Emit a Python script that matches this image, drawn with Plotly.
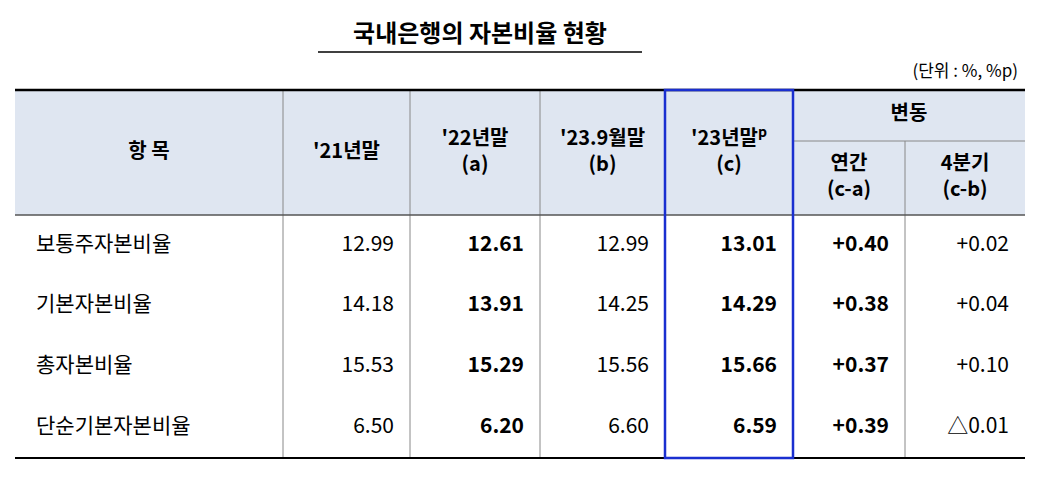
import plotly.graph_objects as go

title = "국내은행의 자본비율 현황"
unit = "(단위 : %, %p)"
items = ["보통주자본비율", "기본자본비율", "총자본비율", "단순기본자본비율"]
col21 = ["12.99", "14.18", "15.53", "6.50"]
col22 = ["12.61", "13.91", "15.29", "6.20"]
col239 = ["12.99", "14.25", "15.56", "6.60"]
col23 = ["13.01", "14.29", "15.66", "6.59"]
yearly = ["+0.40", "+0.38", "+0.37", "+0.39"]
quarter = ["+0.02", "+0.04", "+0.10", "△0.01"]
headers = ["항 목", "'21년말", "'22년말<br>(a)", "'23.9월말<br>(b)", "'23년말<sup>p</sup><br>(c)"]
sub_headers = ["연간<br>(c-a)", "4분기<br>(c-b)"]
group_header = "변동"

xs = [15, 283, 410, 540, 665, 793, 905, 1025]
top, mid, hbot, bot = 90, 141, 215, 458
row_h = (bot - hbot) / 4
row_y = [hbot + row_h * (i + 0.5) for i in range(4)]
FONT = "Noto Sans CJK KR"

fig = go.Figure()
shapes = []
shapes.append(dict(type="rect", x0=xs[0], x1=xs[-1], y0=top, y1=hbot, fillcolor="#dfe6f1", line_width=0, layer="below"))
for x in xs[1:-1]:
    y0 = mid if x == 905 else top
    shapes.append(dict(type="line", x0=x, x1=x, y0=y0, y1=bot, line=dict(color="#888", width=1)))
shapes.append(dict(type="line", x0=xs[5], x1=xs[7], y0=mid, y1=mid, line=dict(color="#888", width=1)))
shapes.append(dict(type="line", x0=xs[0], x1=xs[-1], y0=hbot, y1=hbot, line=dict(color="#555", width=1.5)))
shapes.append(dict(type="line", x0=xs[0], x1=xs[-1], y0=top, y1=top, line=dict(color="#000", width=2.5)))
shapes.append(dict(type="line", x0=xs[0], x1=xs[-1], y0=bot, y1=bot, line=dict(color="#000", width=2)))
shapes.append(dict(type="rect", x0=xs[4], x1=xs[5], y0=top, y1=bot, line=dict(color="#1a2fd0", width=2.5)))
shapes.append(dict(type="line", x0=318, x1=642, y0=52, y1=52, line=dict(color="#000", width=1.5)))

hx = [(xs[i] + xs[i + 1]) / 2 for i in range(7)]
fig.add_trace(go.Scatter(x=hx[:5], y=[153] * 5, mode="text",
                         text=[f"<b>{h}</b>" for h in headers],
                         textfont=dict(family=FONT, size=20, color="#000"), hoverinfo="skip"))
fig.add_trace(go.Scatter(x=[(xs[5] + xs[7]) / 2], y=[115], mode="text", text=[f"<b>{group_header}</b>"],
                         textfont=dict(family=FONT, size=20, color="#000"), hoverinfo="skip"))
fig.add_trace(go.Scatter(x=hx[5:7], y=[178, 178], mode="text", text=[f"<b>{h}</b>" for h in sub_headers],
                         textfont=dict(family=FONT, size=20, color="#000"), hoverinfo="skip"))

fig.add_trace(go.Scatter(x=[36] * 4, y=row_y, mode="text", text=items, textposition="middle right",
                         textfont=dict(family=FONT, size=21, color="#000"), hoverinfo="skip"))
cols = [col21, col22, col239, col23, yearly, quarter]
bold = [False, True, False, True, True, False]
for i, (c, b) in enumerate(zip(cols, bold)):
    right = xs[i + 2] - 16
    fig.add_trace(go.Scatter(x=[right] * 4, y=row_y, mode="text",
                             text=[f"<b>{v}</b>" if b else v for v in c], textposition="middle left",
                             textfont=dict(family=FONT, size=21, color="#000"), hoverinfo="skip"))

fig.add_trace(go.Scatter(x=[480], y=[36], mode="text", text=[f"<b>{title}</b>"],
                         textfont=dict(family=FONT, size=24, color="#000"), hoverinfo="skip"))
fig.add_trace(go.Scatter(x=[1018], y=[73], mode="text", text=[unit], textposition="middle left",
                         textfont=dict(family=FONT, size=17, color="#000"), hoverinfo="skip"))

fig.update_layout(width=1038, height=490, margin=dict(l=0, r=0, t=0, b=0),
                  plot_bgcolor="white", paper_bgcolor="white", showlegend=False, shapes=shapes,
                  xaxis=dict(range=[8, 1046], visible=False, fixedrange=True),
                  yaxis=dict(range=[498, 8], visible=False, fixedrange=True))
fig.write_html("out.html")
